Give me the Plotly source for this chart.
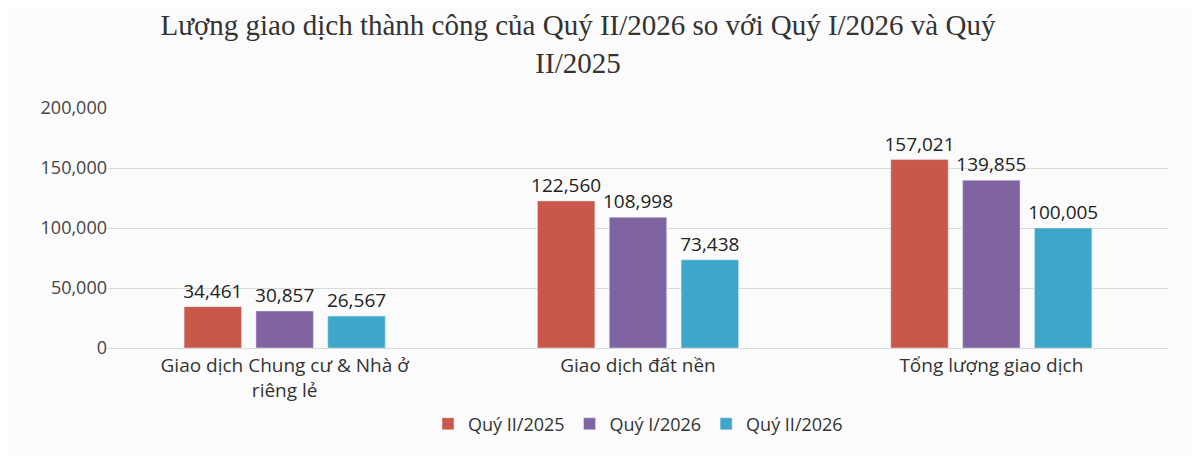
import plotly.graph_objects as go

categories = ["Giao dịch Chung cư & Nhà ở<br>riêng lẻ", "Giao dịch đất nền", "Tổng lượng giao dịch"]
series_names = ["Quý II/2025", "Quý I/2026", "Quý II/2026"]
q2_2025 = [34461, 122560, 157021]
q1_2026 = [30857, 108998, 139855]
q2_2026 = [26567, 73438, 100005]
colors = ["#C9574A", "#8064A2", "#3FA6CA"]

fig = go.Figure()
for name, vals, c in zip(series_names, [q2_2025, q1_2026, q2_2026], colors):
    fig.add_bar(x=categories, y=vals, name=name, marker_color=c,
                text=[f"{v:,}" for v in vals], textposition="outside", constraintext="none",
                textfont=dict(size=19, color="#222"), cliponaxis=False)

fig.update_layout(
    width=1200, height=456, barmode="group", bargap=0.39, bargroupgap=0.2,
    paper_bgcolor="#FBFBFB", plot_bgcolor="#FBFBFB",
    font=dict(family="Open Sans, sans-serif", color="#333"),
    title=dict(text="Lượng giao dịch thành công của Quý II/2026 so với Quý I/2026 và Quý<br>II/2025",
               x=0.475, xanchor="center", y=0.94, yanchor="top",
               font=dict(family="Liberation Serif", size=29, color="#333")),
    margin=dict(l=100, r=40, t=100, b=116),
    yaxis=dict(range=[0, 200000], dtick=50000, tickformat=",", gridcolor="#D9D9D9",
               tickfont=dict(size=18, color="#444"), zeroline=False, showline=False),
    xaxis=dict(tickfont=dict(size=19, color="#333"), showline=True, linecolor="#D9D9D9"),
    legend=dict(orientation="h", x=0.5, xanchor="center", y=-0.24, yanchor="top",
                font=dict(size=18, color="#333")),
)
fig.write_html("out.html")
